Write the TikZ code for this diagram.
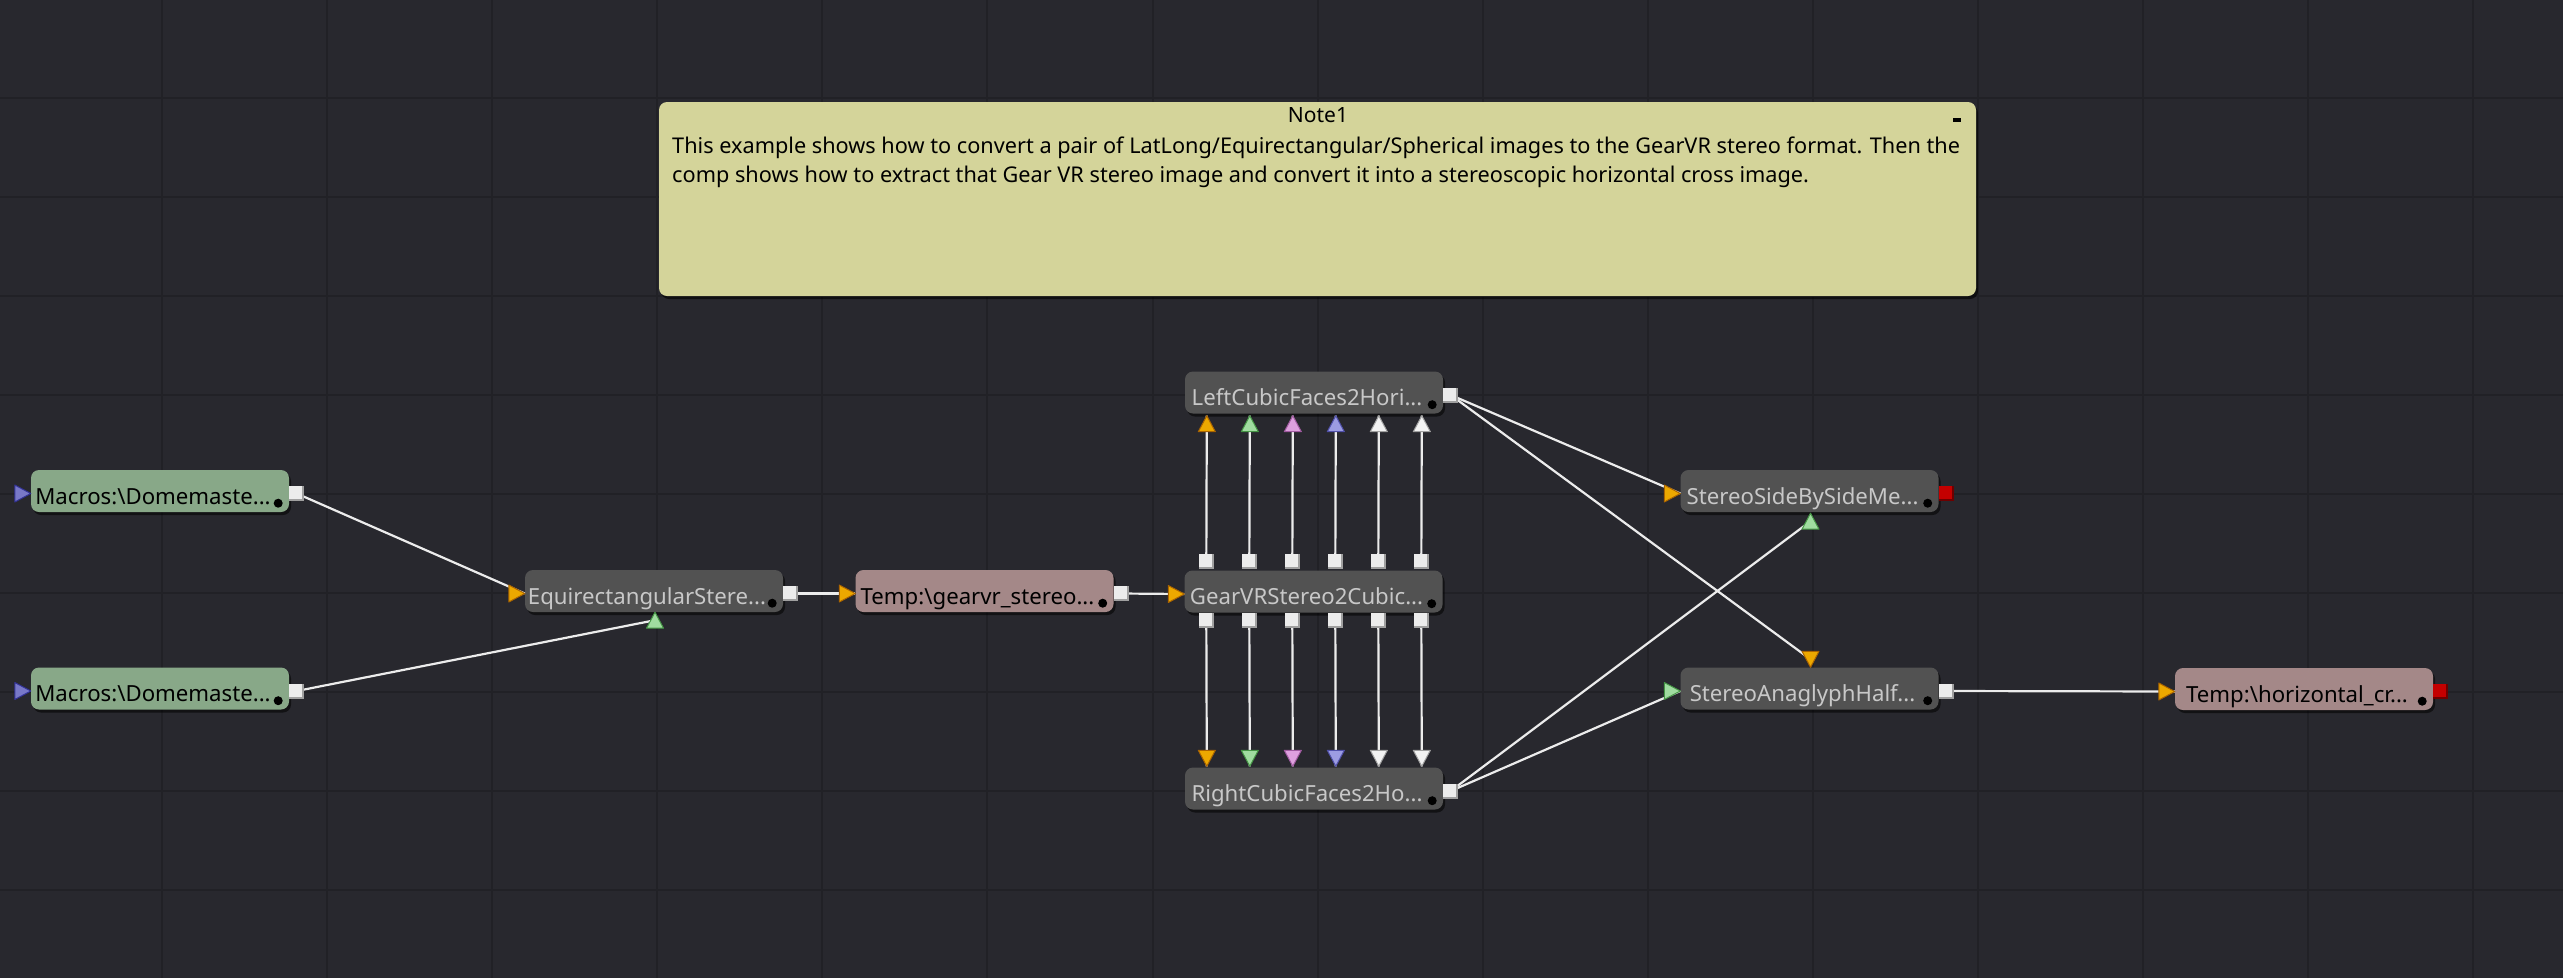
\documentclass[tikz,border=0pt]{standalone}
\usepackage{fontspec}
\setmainfont{Noto Sans}
\usetikzlibrary{calc,shadows}
\definecolor{bg}{RGB}{40,40,46}
\definecolor{gridc}{RGB}{33,33,38}
\definecolor{nodedark}{RGB}{82,82,82}
\definecolor{loadc}{RGB}{136,168,136}
\definecolor{savec}{RGB}{164,136,136}
\definecolor{notec}{RGB}{212,212,154}
\definecolor{txtlight}{RGB}{200,200,200}
\definecolor{wire}{RGB}{236,236,236}
\definecolor{ylw}{RGB}{236,168,0}
\definecolor{ylwd}{RGB}{170,100,0}
\definecolor{grn}{RGB}{160,220,160}
\definecolor{grnd}{RGB}{70,150,70}
\definecolor{pnk}{RGB}{222,160,222}
\definecolor{pnkd}{RGB}{160,90,160}
\definecolor{blu}{RGB}{156,156,226}
\definecolor{blud}{RGB}{80,80,170}
\definecolor{wht}{RGB}{242,242,242}
\definecolor{whtd}{RGB}{160,160,160}
\definecolor{pur}{RGB}{120,120,200}
\definecolor{purd}{RGB}{50,50,150}
\definecolor{sqc}{RGB}{236,236,236}
\definecolor{sqd}{RGB}{160,160,160}
\definecolor{redc}{RGB}{196,0,0}
\definecolor{redd}{RGB}{110,0,0}
% triangle port: tip coordinate, rotation, fill, edge
\newcommand{\porttri}[4]{%
  \begin{scope}[shift={(#1)},rotate=#2]
    \filldraw[fill=#3,draw=#4,line width=1pt,line join=round] (0,0) -- (-16,-8.5) -- (-16,8.5) -- cycle;
  \end{scope}}
% square port: centre coordinate, fill, bevel
\newcommand{\portsq}[3]{%
  \fill[#3] ($(#1)+(-7.5,-7.5)$) rectangle ($(#1)+(7.5,7.5)$);
  \fill[#2] ($(#1)+(-7.5,-7.5)$) rectangle ($(#1)+(5.5,5.5)$);}
\newcommand{\lbl}[1]{\hbox to 258pt{\hss #1\hss\hskip 14pt}}
\begin{document}
\begin{tikzpicture}[x=1pt,y=-1pt,
  fbox/.style={rounded corners=8pt, minimum width=258pt, minimum height=42pt,
    inner sep=0pt, text height=34pt, text depth=8pt,
    font=\fontsize{22.2}{26}\selectfont,
    drop shadow={shadow xshift=2pt, shadow yshift=-3pt, opacity=0.55, fill=black}},
  tool/.style={fbox, fill=nodedark, text=txtlight},
  loader/.style={fbox, fill=loadc, text=black},
  saver/.style={fbox, fill=savec, text=black},
  wirel/.style={draw=wire, line width=2.2pt},
  gridl/.style={draw=gridc, line width=2pt},
  notetxt/.style={anchor=base west, inner sep=0pt, text=black, font=\fontsize{21.7}{26}\selectfont}
  ]
\useasboundingbox (0,0) rectangle (2563,978);
\fill[bg] (0,0) rectangle (2563,978);
\foreach \k in {1,...,15} \draw[gridl] ({-3+165.08*\k},0) -- ({-3+165.08*\k},978);
\foreach \k in {1,...,9} \draw[gridl] (0,{99*\k-1}) -- (2563,{99*\k-1});

% note
\node[rounded corners=8pt, minimum width=1317pt, minimum height=194pt, inner sep=0pt,
  fill=notec, drop shadow={shadow xshift=2pt, shadow yshift=-3pt, opacity=0.6, fill=black}]
  (note) at (1317.5,199) {};
\node[anchor=base, inner sep=0pt, font=\fontsize{21}{25}\selectfont] (nttl) at (1318,122) {Note1};
\node[anchor=center, inner sep=0pt] (nmin) at (1957,120) {\color{black}\rule{8pt}{3.5pt}};
\node[notetxt] (nt1) at (672,153) {This example shows how to convert a pair of LatLong/Equirectangular/Spherical images to the GearVR stereo format. Then the};
\node[notetxt] (nt2) at (672,182.5) {comp shows how to extract that Gear VR stereo image and convert it into a stereoscopic horizontal cross image.};

% tool nodes
\node[loader] (m1) at (160,491) {\lbl{Macros:\textbackslash Domemaste...}};
\node[loader] (m2) at (160,688.5) {\lbl{Macros:\textbackslash Domemaste...}};
\node[tool] (eq) at (654,591) {\lbl{EquirectangularStere...}};
\node[saver] (tg) at (984.5,591) {\lbl{Temp:\textbackslash gearvr\_stereo...}};
\node[tool] (gv) at (1313.5,591.5) {\lbl{GearVRStereo2Cubic...}};
\node[tool] (lc) at (1314,392.5) {\lbl{LeftCubicFaces2Hori...}};
\node[tool] (rc) at (1314,788.5) {\lbl{RightCubicFaces2Ho...}};
\node[tool] (sbs) at (1809.5,491) {\lbl{StereoSideBySideMe...}};
\node[tool] (ana) at (1809.5,688.5) {\lbl{StereoAnaglyphHalf...}};
\node[saver] (th) at (2304,689) {\lbl{Temp:\textbackslash horizontal\_cr...}};
\foreach \n in {m1,m2,eq,tg,gv,lc,rc,sbs,ana,th}
  \fill[black] ($(\n.south east)+(-11,-9)$) circle (4.5);

% port coordinates
\foreach \n in {m1,m2,eq,tg,lc,rc,sbs,ana,th}
  \coordinate (\n-o) at ($(\n.east)+(7.5,2.5)$);
\foreach \n in {m1,m2,eq,tg,gv,sbs,ana,th}
  \coordinate (\n-i) at ($(\n.west)+(0,2.5)$);
\coordinate (eq-b) at ($(eq.south)+(1,0)$);
\coordinate (eq-bc) at ($(eq.south)+(1,8)$);
\coordinate (sbs-b) at ($(sbs.south)+(1,1)$);
\coordinate (sbs-bc) at ($(sbs.south)+(1,9)$);
\coordinate (ana-t) at ($(ana.north)+(1,0)$);
\coordinate (ana-tc) at ($(ana.north)+(1,-8)$);
\foreach \i in {1,...,6} {
  \coordinate (gu\i) at ($(gv.north west)+({22+43*(\i-1)},-8.5)$);
  \coordinate (gd\i) at ($(gv.south west)+({22+43*(\i-1)},8)$);
  \coordinate (lt\i) at ($(lc.south west)+({22+43*(\i-1)},2)$);
  \coordinate (rt\i) at ($(rc.north west)+({22+43*(\i-1)},-1)$);
}

% connectors
\draw[wirel] (m1-o) -- (eq-i);
\draw[wirel] (m2-o) -- (eq-bc);
\draw[wirel] (eq-o) -- (tg-i);
\draw[wirel] (tg-o) -- (gv-i);
\foreach \i in {1,...,6} {
  \draw[wirel] (gu\i) -- (lt\i);
  \draw[wirel] (gd\i) -- (rt\i);
}
\draw[wirel] (lc-o) -- (sbs-i);
\draw[wirel] (lc-o) -- (ana-tc);
\draw[wirel] (rc-o) -- (sbs-bc);
\draw[wirel] (rc-o) -- (ana-i);
\draw[wirel] (ana-o) -- (th-i);

% output squares
\foreach \n in {m1,m2,eq,tg,lc,rc,ana} \portsq{\n-o}{sqc}{sqd};
\portsq{sbs-o}{redc}{redd}
\portsq{th-o}{redc}{redd}
\foreach \i in {1,...,6} { \portsq{gu\i}{sqc}{sqd} \portsq{gd\i}{sqc}{sqd} }

% input triangles
\porttri{m1-i}{0}{pur}{purd}
\porttri{m2-i}{0}{pur}{purd}
\porttri{eq-i}{0}{ylw}{ylwd}
\porttri{eq-b}{90}{grn}{grnd}
\porttri{tg-i}{0}{ylw}{ylwd}
\porttri{gv-i}{0}{ylw}{ylwd}
\porttri{sbs-i}{0}{ylw}{ylwd}
\porttri{sbs-b}{90}{grn}{grnd}
\porttri{ana-t}{-90}{ylw}{ylwd}
\porttri{ana-i}{0}{grn}{grnd}
\porttri{th-i}{0}{ylw}{ylwd}
\foreach \i/\fc/\ec in {1/ylw/ylwd,2/grn/grnd,3/pnk/pnkd,4/blu/blud,5/wht/whtd,6/wht/whtd} {
  \porttri{lt\i}{90}{\fc}{\ec}
  \porttri{rt\i}{-90}{\fc}{\ec}
}
\end{tikzpicture}
\end{document}
